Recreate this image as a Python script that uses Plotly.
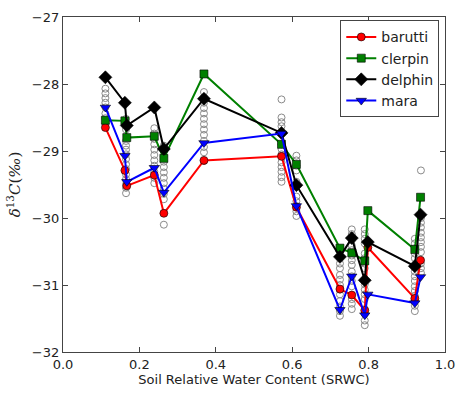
import plotly.graph_objects as go

# SRWC of each sampling date (shared by the four sites)
srwc = [0.111, 0.162, 0.167, 0.239, 0.264, 0.369, 0.572, 0.611,
        0.725, 0.756, 0.790, 0.798, 0.921, 0.936]

# Site-mean delta 13C (per mil)
barutti = [-28.65, -29.29, -29.52, -29.36, -29.93, -29.14, -29.08, -29.84,
           -31.06, -31.15, -31.38, -30.44, -31.20, -30.63]
clerpin = [-28.54, -28.55, -28.80, -28.78, -29.11, -27.85, -28.90, -29.20,
           -30.45, -30.52, -30.64, -29.89, -30.47, -29.69]
delphin = [-27.90, -28.28, -28.62, -28.35, -28.97, -28.22, -28.73, -29.51,
           -30.58, -30.30, -30.93, -30.36, -30.72, -29.95]
mara = [-28.35, -29.07, -29.46, -29.25, -29.62, -28.88, -28.74, -29.82,
        -31.37, -30.87, -31.45, -31.14, -31.27, -30.88]

# Individual tree measurements, grouped by sampling SRWC
obs_srwc = [0.111, 0.165, 0.239, 0.264, 0.369, 0.572, 0.611,
            0.725, 0.756, 0.790, 0.921, 0.937]
obs_d13c = [
    [-28.07, -28.14, -28.21, -28.28, -28.35, -28.44, -28.51, -28.60],
    [-28.52, -28.60, -28.68, -28.85, -28.92, -28.98, -29.05, -29.12,
     -29.20, -29.27, -29.35, -29.42, -29.50, -29.55, -29.63],
    [-28.66, -28.74, -28.82, -28.90, -28.98, -29.06, -29.14, -29.22,
     -29.31, -29.40, -29.48],
    [-28.92, -29.00, -29.08, -29.16, -29.24, -29.32, -29.40, -29.48,
     -29.56, -29.64, -29.72, -30.10],
    [-28.12, -28.20, -28.28, -28.36, -28.44, -28.52, -28.60, -28.68,
     -28.76, -28.85, -28.94, -29.02, -29.15],
    [-28.23, -28.50, -28.57, -28.63, -28.90, -28.97, -29.05, -29.17,
     -29.24, -29.31, -29.39, -29.46],
    [-29.07, -29.14, -29.22, -29.29, -29.46, -29.68, -29.75, -29.82,
     -29.90, -29.97],
    [-30.60, -30.68, -30.75, -30.85, -30.92, -31.00, -31.07, -31.14,
     -31.24, -31.32, -31.39, -31.46],
    [-30.17, -30.24, -30.33, -30.41, -30.48, -30.56, -30.63, -30.70,
     -30.80, -30.87, -30.94, -31.02, -31.21, -31.28, -31.36],
    [-30.17, -30.24, -30.31, -30.38, -30.53, -30.60, -30.68, -30.75,
     -30.99, -31.07, -31.14, -31.21, -31.36, -31.43, -31.53, -31.60],
    [-30.31, -30.38, -30.45, -30.53, -30.60, -30.72, -30.80, -30.87,
     -30.94, -31.02, -31.09, -31.16, -31.24, -31.31, -31.39],
    [-29.29, -30.00, -30.07, -30.14, -30.22, -30.29, -30.36, -30.43,
     -30.51, -30.68, -30.75, -30.82],
]

x_ticks = [0.0, 0.2, 0.4, 0.6, 0.8, 1.0]
y_ticks = [-32, -31, -30, -29, -28, -27]

fig = go.Figure()

# Open grey circles for the individual trees
pts_x, pts_y = [], []
for xv, ys in zip(obs_srwc, obs_d13c):
    pts_x += [xv] * len(ys)
    pts_y += ys
fig.add_trace(go.Scatter(
    x=pts_x, y=pts_y, mode="markers", showlegend=False, hoverinfo="skip",
    marker=dict(symbol="circle-open", size=7, color="#8a8a8a",
                line=dict(width=1, color="#8a8a8a")),
))

series = [
    ("barutti", barutti, "#ff0000", "circle", 8),
    ("clerpin", clerpin, "#008000", "square", 8),
    ("delphin", delphin, "#000000", "diamond", 10),
    ("mara", mara, "#0000ff", "triangle-down", 9),
]
for name, vals, col, sym, sz in series:
    fig.add_trace(go.Scatter(
        x=srwc, y=vals, mode="lines+markers", name=name,
        line=dict(color=col, width=2),
        marker=dict(symbol=sym, size=sz, color=col,
                    line=dict(width=0.6, color="#000000")),
    ))

axis_common = dict(
    showgrid=False, zeroline=False, showline=True, mirror="allticks",
    linecolor="#444444", linewidth=1.2, ticks="inside", ticklen=5,
    tickcolor="#444444", tickwidth=1,
    tickfont=dict(family="DejaVu Sans", size=13, color="#222222"),
)

fig.update_xaxes(
    range=[0, 1], tickvals=x_ticks,
    ticktext=[f"{v:.1f}" for v in x_ticks],
    title=dict(text="Soil Relative Water Content (SRWC)", standoff=4,
               font=dict(family="DejaVu Sans", size=13, color="#222222")),
    **axis_common,
)
fig.update_yaxes(
    range=[-32, -27], tickvals=y_ticks,
    ticktext=[f"\u2212{abs(v)}" for v in y_ticks],
    title=dict(text="<i>δ</i><sup>13</sup><i>C</i>(<i>‰</i>)", standoff=7,
               font=dict(family="DejaVu Serif", size=15, color="#222222")),
    **axis_common,
)

fig.update_layout(
    width=465, height=395,
    margin=dict(l=63, r=10, t=12, b=41),
    paper_bgcolor="white", plot_bgcolor="white",
    legend=dict(
        x=0.985, y=0.99, xanchor="right", yanchor="top",
        bgcolor="white", bordercolor="#444444", borderwidth=1,
        font=dict(family="DejaVu Sans", size=14, color="#222222"),
        itemwidth=30, tracegroupgap=0,
    ),
)

fig.write_html("out.html")
